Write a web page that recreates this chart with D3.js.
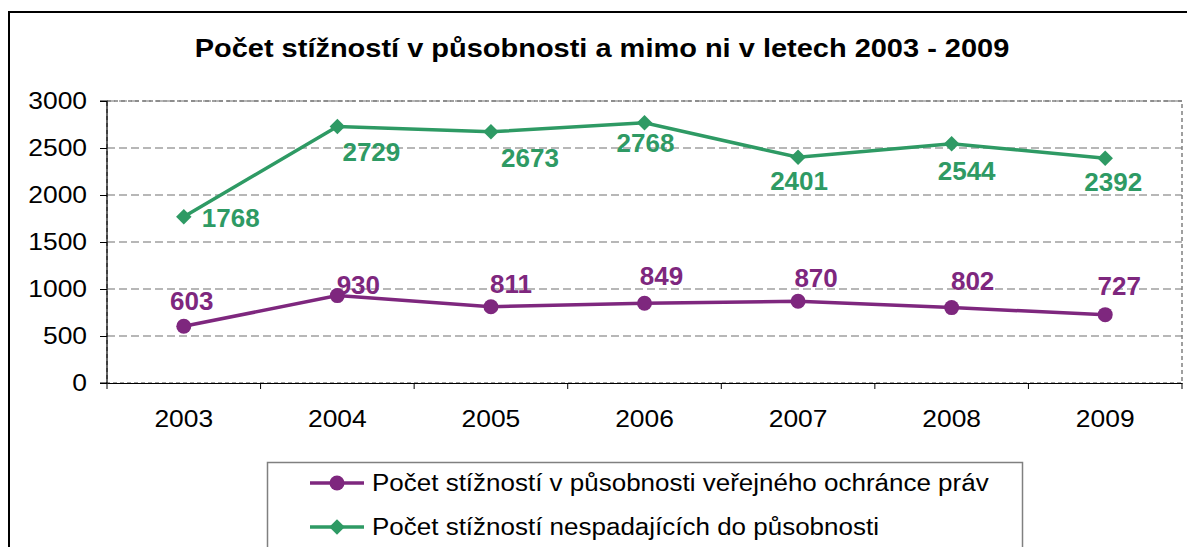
<!DOCTYPE html>
<html>
<head>
<meta charset="utf-8">
<script src="https://cdn.jsdelivr.net/npm/d3@7"></script>
<style>
  body { margin: 0; background: #fff; }
  text { font-family: "Liberation Sans", Arial, sans-serif; }
</style>
</head>
<body>
<div id="chart"></div>
<script>
"use strict";

// data
const years = ["2003", "2004", "2005", "2006", "2007", "2008", "2009"];
const inScope = [603, 930, 811, 849, 870, 802, 727];
const outOfScope = [1768, 2729, 2673, 2768, 2401, 2544, 2392];
const yTicks = [0, 500, 1000, 1500, 2000, 2500, 3000];
const seriesNames = [
    "Počet stížností v působnosti veřejného ochránce práv",
    "Počet stížností nespadajících do působnosti"
];
const title = "Počet stížností v působnosti a mimo ni v letech 2003 - 2009";

// label nudges (layout only)
const inScopeLabelShift = [[8, -26], [21, -11], [20, -23], [17, -28], [18, -24], [21, -27], [14, -29]];
const outScopeLabelShift = [[18, 1], [34, 25], [39, 26], [1, 20], [1, 23], [15, 27], [8, 23]];

const purple = "#7E277E",
    green = "#2E9A64";

const width = 1187,
    height = 547;

// the source text is a bit wider than the font, stretch it sideways
const stretch = (sel, sx) => {
    sel.each(function () {
        const t = d3.select(this);
        const x0 = +t.attr("x") || 0;
        t.attr("x", x0 / sx).attr("transform", `scale(${sx},1)`);
    });
};

const svg = d3.select("#chart")
    .append("svg")
    .attr("width", width)
    .attr("height", height);

// outer frame (runs off the right and bottom edge)
svg.append("rect")
    .attr("x", 9).attr("y", 12)
    .attr("width", 1200).attr("height", 600)
    .attr("fill", "none")
    .attr("stroke", "#000")
    .attr("stroke-width", 2);

svg.append("text")
    .attr("x", 602).attr("y", 57)
    .attr("text-anchor", "middle")
    .attr("font-size", 26)
    .attr("font-weight", "bold")
    .text(title)
    .call(stretch, 1.115);

const plot = { left: 107, right: 1182, top: 101, bottom: 383 };

const x = d3.scaleBand()
    .domain(years)
    .range([plot.left, plot.right]);

const y = d3.scaleLinear()
    .domain([0, 3000])
    .range([plot.bottom, plot.top]);

const cx = d => x(d) + x.bandwidth() / 2;

// grid
svg.append("g")
    .selectAll("line")
    .data(yTicks.filter(t => t > 0))
    .enter()
    .append("line")
    .attr("x1", plot.left).attr("x2", plot.right)
    .attr("y1", d => y(d)).attr("y2", d => y(d))
    .attr("stroke", "#a0a0a0")
    .attr("stroke-width", 1.3)
    .attr("stroke-dasharray", "8,4");

// dotted plot border
svg.append("rect")
    .attr("x", plot.left).attr("y", plot.top)
    .attr("width", plot.right - plot.left)
    .attr("height", plot.bottom - plot.top)
    .attr("fill", "none")
    .attr("stroke", "#808080")
    .attr("stroke-width", 1.5)
    .attr("stroke-dasharray", "4,3");

// axes
const yAxis = d3.axisLeft(y)
    .tickValues(yTicks)
    .tickFormat(d3.format("d"))
    .tickSize(7)
    .tickPadding(13);
const gy = svg.append("g")
    .attr("transform", `translate(${plot.left},0)`)
    .call(yAxis);

const xAxis = d3.axisBottom(x).tickSize(0).tickPadding(27);
const gx = svg.append("g")
    .attr("transform", `translate(0,${plot.bottom})`)
    .call(xAxis);

// band boundary ticks
gx.selectAll(".bound")
    .data(years.concat(["end"]))
    .enter()
    .append("line")
    .attr("x1", (d, i) => plot.left + i * x.bandwidth())
    .attr("x2", (d, i) => plot.left + i * x.bandwidth())
    .attr("y1", 0).attr("y2", 6)
    .attr("stroke", "#000");

[gx, gy].forEach(g => {
    g.select(".domain").attr("stroke", "#000").attr("stroke-width", 1.2);
    g.selectAll(".tick line").attr("stroke", "#000");
    g.selectAll(".tick text")
        .attr("font-size", 24)
        .attr("fill", "#000")
        .style("font-family", '"Liberation Sans", Arial, sans-serif')
        .call(stretch, 1.1);
});
gy.select(".domain").attr("d", `M-7,${plot.top}H0V${plot.bottom}H-7`);

// lines
const line = d3.line()
    .x((d, i) => cx(years[i]))
    .y(d => y(d));

svg.append("path")
    .datum(outOfScope)
    .attr("fill", "none")
    .attr("stroke", green)
    .attr("stroke-width", 3.5)
    .attr("d", line);

svg.append("path")
    .datum(inScope)
    .attr("fill", "none")
    .attr("stroke", purple)
    .attr("stroke-width", 3.5)
    .attr("d", line);

const diamond = d3.symbol().type(d3.symbolSquare).size(120);

svg.append("g")
    .selectAll("path")
    .data(outOfScope)
    .enter()
    .append("path")
    .attr("d", diamond)
    .attr("fill", green)
    .attr("transform", (d, i) => `translate(${cx(years[i])},${y(d)}) rotate(45)`);

svg.append("g")
    .selectAll("circle")
    .data(inScope)
    .enter()
    .append("circle")
    .attr("cx", (d, i) => cx(years[i]))
    .attr("cy", d => y(d))
    .attr("r", 7.5)
    .attr("fill", purple);

// value labels
svg.append("g")
    .selectAll("text")
    .data(outOfScope)
    .enter()
    .append("text")
    .attr("x", (d, i) => cx(years[i]) + outScopeLabelShift[i][0])
    .attr("y", (d, i) => y(d) + outScopeLabelShift[i][1])
    .attr("dy", "0.36em")
    .attr("text-anchor", (d, i) => i === 0 ? "start" : "middle")
    .attr("font-size", 26)
    .attr("font-weight", "bold")
    .attr("fill", green)
    .text(d => d);

svg.append("g")
    .selectAll("text")
    .data(inScope)
    .enter()
    .append("text")
    .attr("x", (d, i) => cx(years[i]) + inScopeLabelShift[i][0])
    .attr("y", (d, i) => y(d) + inScopeLabelShift[i][1])
    .attr("dy", "0.36em")
    .attr("text-anchor", "middle")
    .attr("font-size", 26)
    .attr("font-weight", "bold")
    .attr("fill", purple)
    .text(d => d);

// legend
const legend = svg.append("g");
legend.append("rect")
    .attr("x", 267.5).attr("y", 462.5)
    .attr("width", 755).attr("height", 120)
    .attr("fill", "#fff")
    .attr("stroke", "#808080")
    .attr("stroke-width", 1.5);

const rows = [
    { name: seriesNames[0], color: purple, mark: "circle" },
    { name: seriesNames[1], color: green, mark: "diamond" }
];

rows.forEach((r, i) => {
    const ly = 483 + i * 44;
    legend.append("line")
        .attr("x1", 310).attr("x2", 364)
        .attr("y1", ly).attr("y2", ly)
        .attr("stroke", r.color)
        .attr("stroke-width", 3.5);
    if (r.mark === "circle") {
        legend.append("circle")
            .attr("cx", 337).attr("cy", ly).attr("r", 7.5)
            .attr("fill", r.color);
    } else {
        legend.append("path")
            .attr("d", diamond)
            .attr("fill", r.color)
            .attr("transform", `translate(337,${ly}) rotate(45)`);
    }
    legend.append("text")
        .attr("x", 372).attr("y", ly)
        .attr("dy", "0.36em")
        .attr("font-size", 23)
        .attr("fill", "#000")
        .text(r.name)
        .call(stretch, 1.13);
});
</script>
</body>
</html>
